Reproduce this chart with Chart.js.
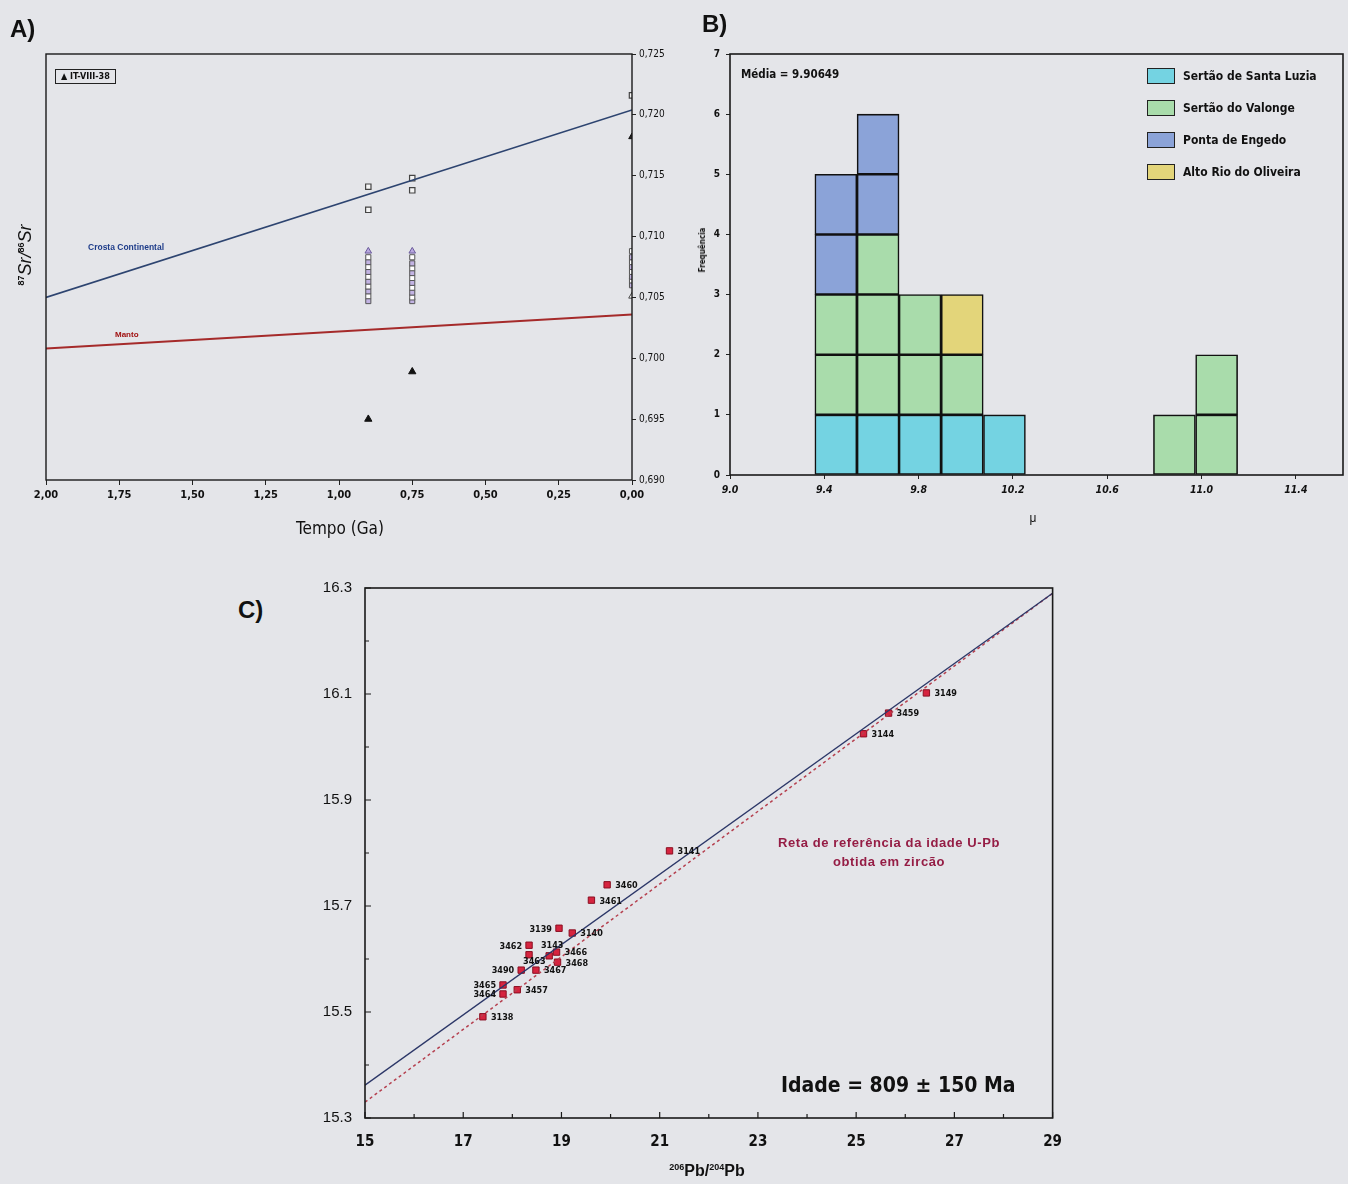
<!DOCTYPE html>
<html>
<head>
<meta charset="utf-8">
<script src="https://cdn.jsdelivr.net/npm/chart.js@4.4.1/dist/chart.umd.min.js"></script>
<style>
  body { margin: 0; width: 1348px; height: 1184px; background: #e4e5e9; position: relative; overflow: hidden;
         font-family: Arial, "Liberation Sans", sans-serif; color: #111; }
  canvas { position: absolute; }
  .t { position: absolute; white-space: nowrap; line-height: 1; }
  .narrow { font-family: "Liberation Sans Narrow", "Arial Narrow", "DejaVu Sans Condensed", Arial, sans-serif; }
  .sw { position: absolute; width: 26px; height: 14px; border: 1.5px solid #222; }
</style>
</head>
<body>

<canvas id="chartA" width="700" height="520" style="left:0;top:0"></canvas>
<canvas id="chartB" width="648" height="540" style="left:700px;top:0"></canvas>
<canvas id="chartC" width="777" height="618" style="left:300px;top:566px"></canvas>

<!-- panel A texts -->
<div class="t" style="left:10px;top:17px;font-size:24px;font-weight:bold">A)</div>
<div class="t narrow" style="left:55px;top:69px;border:1.5px solid #222;padding:2px 5px;font-size:9px;font-weight:bold">&#9650; IT-VIII-38</div>
<div class="t" style="left:88px;top:243px;font-size:8.5px;font-weight:bold;color:#1f3d8a">Crosta Continental</div>
<div class="t" style="left:115px;top:331px;font-size:8px;font-weight:bold;color:#a01010">Manto</div>
<div class="t" style="left:25px;top:255px;transform:translate(-50%,-50%) rotate(-90deg);font-size:18px;font-style:italic">
  <sup style="font-size:9px;font-style:normal;font-weight:bold">87</sup>Sr/<sup style="font-size:9px;font-style:normal;font-weight:bold">86</sup>Sr</div>
<div class="t narrow" style="left:340px;top:520px;transform:translateX(-50%);font-size:17px">Tempo (Ga)</div>

<!-- panel B texts -->
<div class="t" style="left:702px;top:12px;font-size:24px;font-weight:bold">B)</div>
<div class="t narrow" style="left:741px;top:69px;font-size:11.5px;font-weight:bold">Média = 9.90649</div>
<div class="t narrow" style="left:703px;top:250px;transform:translate(-50%,-50%) rotate(-90deg);font-size:8px;font-weight:bold">Frequência</div>
<div class="t" style="left:1033px;top:512px;transform:translateX(-50%);font-size:12px">μ</div>
<div id="legendB"></div>

<!-- panel C texts -->
<div class="t" style="left:238px;top:598px;font-size:24px;font-weight:bold">C)</div>
<div class="t" style="left:889px;top:833px;transform:translateX(-50%);font-size:13px;font-weight:bold;color:#951d45;text-align:center;line-height:19px;letter-spacing:0.6px">
  Reta de referência da idade U-Pb<br>obtida em zircão</div>
<div class="t narrow" style="left:781px;top:1075px;font-size:21px;font-weight:bold">Idade = 809 ± 150 Ma</div>
<div class="t" style="left:707px;top:1163px;transform:translateX(-50%);font-size:16px;font-weight:bold">
  <sup style="font-size:9px">206</sup>Pb/<sup style="font-size:9px">204</sup>Pb</div>

<script>
// ---------- A) 87Sr/86Sr vs tempo ----------
const crostaT = [2.0, 0.0];
const crostaSr = [0.7050, 0.7204];
const mantoT = [2.0, 0.0];
const mantoSr = [0.7008, 0.7036];
const itT = [0.9, 0.75];
const itSr = [0.6950, 0.6989];
const openT = [0.9, 0.9, 0.75, 0.75, 0.0];
const openSr = [0.7141, 0.7122, 0.7148, 0.7138, 0.7216];
const col090Sr = [0.7047, 0.7051, 0.7055, 0.7059, 0.7063, 0.7067, 0.7071, 0.7075, 0.7079, 0.7083];
const col075Sr = [0.7047, 0.7050, 0.7054, 0.7058, 0.7062, 0.7066, 0.7070, 0.7074, 0.7078, 0.7083];
const col000Sr = [0.7060, 0.7064, 0.7067, 0.7071, 0.7075, 0.7079, 0.7083, 0.7088];
const topTriT = [0.9, 0.75];
const topTriSr = [0.7088, 0.7088];
const presentOpenTriSr = 0.7051;
const presentDotSr = 0.7182;
const tTicks = [2.0, 1.75, 1.5, 1.25, 1.0, 0.75, 0.5, 0.25, 0.0];

// ---------- B) histograma de mu ----------
const muBins = [9.449, 9.628, 9.806, 9.985, 10.164, 10.342, 10.521, 10.699, 10.885, 11.064];
const santaLuzia = [1, 1, 1, 1, 1, 0, 0, 0, 0, 0];
const valonge = [2, 3, 2, 1, 0, 0, 0, 0, 1, 2];
const pontaEngedo = [2, 2, 0, 0, 0, 0, 0, 0, 0, 0];
const altoRio = [0, 0, 0, 1, 0, 0, 0, 0, 0, 0];
const muTicks = [9.0, 9.4, 9.8, 10.2, 10.6, 11.0, 11.4];
const groupNames = ["Sertão de Santa Luzia", "Sertão do Valonge", "Ponta de Engedo", "Alto Rio do Oliveira"];
const groupColors = ["#74d3e2", "#a9dcab", "#8ba3d8", "#e3d57a"];

// ---------- C) 207Pb/204Pb vs 206Pb/204Pb ----------
const samples = ["3149", "3459", "3144", "3141", "3460", "3461", "3139", "3140", "3462", "3463",
                 "3143", "3466", "3468", "3490", "3467", "3465", "3464", "3457", "3138"];
const pb206 = [26.43, 25.66, 25.15, 21.20, 19.93, 19.61, 18.95, 19.22, 18.34, 18.34,
               18.75, 18.90, 18.92, 18.18, 18.48, 17.81, 17.81, 18.10, 17.40];
const pb207 = [16.102, 16.064, 16.025, 15.804, 15.740, 15.711, 15.658, 15.649, 15.626, 15.608,
               15.606, 15.613, 15.594, 15.579, 15.579, 15.551, 15.534, 15.542, 15.491];
const labelSide = { "3139": "l", "3462": "l", "3490": "l", "3465": "l", "3464": "l", "3143": "u", "3463": "d" };
const refX = [15, 29];
const refY = [15.362, 16.290];
const zirconX = [15, 29];
const zirconY = [15.330, 16.290];

const $ = id => document.getElementById(id);
const pts = (xs, ys) => xs.map((x, i) => ({ x, y: ys[i] }));
const narrow = '"Liberation Sans Narrow", "Arial Narrow", "DejaVu Sans Condensed", Arial, sans-serif';

const frame = {
  id: "frame",
  afterDatasetsDraw(chart, args, opts) {
    const { ctx, chartArea: a } = chart;
    ctx.save();
    ctx.strokeStyle = "#1a1a1a";
    ctx.lineWidth = opts.width || 1.2;
    ctx.strokeRect(a.left, a.top, a.right - a.left, a.bottom - a.top);
    ctx.restore();
  }
};

// ---- A ----
const stackStyle = { pointStyle: "rect", pointRadius: 3.6, borderWidth: 1, borderColor: "#555",
                     backgroundColor: c => c.dataIndex % 2 ? "#ffffff" : "#c2b3e3" };
new Chart($("chartA"), {
  type: "scatter",
  data: {
    datasets: [
      { data: pts(crostaT, crostaSr), showLine: true, borderColor: "#2d4470", borderWidth: 1.6, pointRadius: 0 },
      { data: pts(mantoT, mantoSr), showLine: true, borderColor: "#a52a2a", borderWidth: 2, pointRadius: 0 },
      { data: pts(col090Sr.map(() => 0.9), col090Sr), ...stackStyle },
      { data: pts(col075Sr.map(() => 0.75), col075Sr), ...stackStyle },
      { data: pts(col000Sr.map(() => 0.0), col000Sr), ...stackStyle },
      { data: pts(topTriT, topTriSr), pointStyle: "triangle", pointRadius: 3.8, borderWidth: 1,
        borderColor: "#6a5a9a", backgroundColor: "#b9a8e0" },
      { data: [{ x: 0.0, y: presentOpenTriSr }], pointStyle: "triangle", pointRadius: 3.8, borderWidth: 1,
        borderColor: "#444", backgroundColor: "#fff" },
      { data: [{ x: 0.0, y: presentDotSr }], pointStyle: "triangle", pointRadius: 3.8, borderWidth: 1,
        borderColor: "#111", backgroundColor: "#222" },
      { data: pts(openT, openSr), pointStyle: "rect", pointRadius: 3.8, borderWidth: 1.2,
        borderColor: "#444", backgroundColor: "#f4f4f4" },
      { data: pts(itT, itSr), pointStyle: "triangle", pointRadius: 4.2, borderWidth: 1,
        borderColor: "#111", backgroundColor: "#111" }
    ]
  },
  options: {
    responsive: false, animation: false, devicePixelRatio: 1,
    layout: { padding: { left: 46, top: 54, right: 0, bottom: 0 } },
    plugins: { legend: { display: false }, tooltip: { enabled: false }, frame: { width: 1.4 } },
    scales: {
      x: {
        type: "linear", reverse: true, min: 0, max: 2,
        afterFit: s => { s.height = 40; },
        afterBuildTicks: s => { s.ticks = tTicks.map(v => ({ value: v })); },
        grid: { drawOnChartArea: false, tickLength: 5, color: "#222" },
        border: { display: false },
        ticks: { padding: 4, color: "#111", font: { family: narrow, size: 11, weight: "bold" },
                 callback: v => v.toFixed(2).replace(".", ",") }
      },
      y: {
        position: "right", min: 0.69, max: 0.725,
        afterFit: s => { s.width = 68; },
        grid: { drawOnChartArea: false, tickLength: 4, color: "#222" },
        border: { display: false },
        ticks: { stepSize: 0.005, includeBounds: false, padding: 3, color: "#111",
                 font: { family: narrow, size: 10 },
                 callback: v => v.toFixed(3).replace(".", ",") }
      }
    }
  },
  plugins: [frame]
});

// ---- B ----
const groups = [santaLuzia, valonge, pontaEngedo, altoRio];
const cellSets = [];
groups.forEach((counts, g) => {
  const top = Math.max(...counts);
  for (let k = 1; k <= top; k++) {
    cellSets.push({
      data: muBins.map((x, i) => ({ x, y: counts[i] >= k ? 1 : null })),
      backgroundColor: groupColors[g], borderColor: "#111", borderWidth: 1.6, borderSkipped: false,
      barPercentage: 1, categoryPercentage: 1
    });
  }
});

new Chart($("chartB"), {
  type: "bar",
  data: { datasets: cellSets },
  options: {
    responsive: false, animation: false, devicePixelRatio: 1,
    layout: { padding: { left: 0, top: 54, right: 5, bottom: 0 } },
    plugins: { legend: { display: false }, tooltip: { enabled: false }, frame: { width: 1.6 } },
    scales: {
      x: {
        type: "linear", min: 9.0, max: 11.6, stacked: true, offset: false,
        afterFit: s => { s.height = 65; },
        afterBuildTicks: s => { s.ticks = muTicks.map(v => ({ value: v })); },
        grid: { drawOnChartArea: false, offset: false, tickLength: 4, color: "#222" },
        border: { display: false },
        ticks: { padding: 5, color: "#111",
                 font: { family: narrow, size: 10.5, weight: "bold", style: "italic" },
                 callback: v => v.toFixed(1) }
      },
      y: {
        stacked: true, min: 0, max: 7,
        afterFit: s => { s.width = 30; },
        grid: { drawOnChartArea: false, tickLength: 4, color: "#222" },
        border: { display: false },
        ticks: { stepSize: 1, padding: 6, color: "#111", font: { family: narrow, size: 10, weight: "bold" } }
      }
    }
  },
  plugins: [frame]
});

$("legendB").innerHTML = groupNames.map((n, i) =>
  `<div class="sw" style="left:1147px;top:${68 + i * 32}px;background:${groupColors[i]}"></div>
   <div class="t narrow" style="left:1183px;top:${70 + i * 32}px;font-size:12px;font-weight:bold">${n}</div>`
).join("");

// ---- C ----
const tags = {
  id: "tags",
  afterDatasetsDraw(chart) {
    const { ctx } = chart;
    const meta = chart.getDatasetMeta(2);
    ctx.save();
    ctx.font = "bold 9px " + narrow;
    ctx.fillStyle = "#111";
    ctx.textBaseline = "middle";
    meta.data.forEach((p, i) => {
      const side = labelSide[samples[i]] || "r";
      if (side === "l") { ctx.textAlign = "right"; ctx.fillText(samples[i], p.x - 7, p.y + 1); }
      else if (side === "u") { ctx.textAlign = "center"; ctx.fillText(samples[i], p.x + 3, p.y - 10); }
      else if (side === "d") { ctx.textAlign = "left"; ctx.fillText(samples[i], p.x - 6, p.y + 7); }
      else { ctx.textAlign = "left"; ctx.fillText(samples[i], p.x + 8, p.y + 1); }
    });
    ctx.restore();
  }
};

const inTicks = {
  id: "inTicks",
  afterDraw(chart) {
    const { ctx, chartArea: a, scales: { x, y } } = chart;
    ctx.save();
    ctx.strokeStyle = "#1a1a1a";
    ctx.lineWidth = 1.2;
    ctx.beginPath();
    x.ticks.forEach(t => {
      const px = x.getPixelForValue(t.value);
      ctx.moveTo(px, a.bottom);
      ctx.lineTo(px, a.bottom - (t.label ? 6 : 4));
    });
    y.ticks.forEach(t => {
      const py = y.getPixelForValue(t.value);
      ctx.moveTo(a.left, py);
      ctx.lineTo(a.left + (t.label ? 6 : 4), py);
    });
    ctx.stroke();
    ctx.restore();
  }
};

new Chart($("chartC"), {
  type: "scatter",
  data: {
    datasets: [
      { data: pts(refX, refY), showLine: true, borderColor: "#2c3768", borderWidth: 1.3, pointRadius: 0 },
      { data: pts(zirconX, zirconY), showLine: true, borderColor: "#b5404f", borderWidth: 1.5,
        borderDash: [3, 3], pointRadius: 0 },
      { data: pts(pb206, pb207), pointStyle: "rect", pointRadius: 4.5, borderWidth: 1,
        borderColor: "#8a0f22", backgroundColor: "#d6243f" }
    ]
  },
  options: {
    responsive: false, animation: false, devicePixelRatio: 1,
    layout: { padding: 0 },
    plugins: { legend: { display: false }, tooltip: { enabled: false }, frame: { width: 1.6 } },
    scales: {
      x: {
        min: 15, max: 29,
        afterFit: s => { s.height = 66; },
        grid: { display: false, drawTicks: false },
        border: { display: false },
        ticks: { stepSize: 1, autoSkip: false, maxRotation: 0, padding: 15, color: "#111",
                 font: { family: narrow, size: 15, weight: "bold" },
                 callback: v => (v % 2 === 1 ? v : "") }
      },
      y: {
        min: 15.3, max: 16.3,
        afterFit: s => { s.width = 65; },
        grid: { display: false, drawTicks: false },
        border: { display: false },
        ticks: { stepSize: 0.1, autoSkip: false, padding: 13, color: "#111",
                 font: { family: "Arial, 'Liberation Sans', sans-serif", size: 15 },
                 callback: v => (Math.round(v * 10) % 2 === 1 ? v.toFixed(1) : "") }
      }
    }
  },
  plugins: [frame, tags, inTicks]
});
</script>
</body>
</html>
